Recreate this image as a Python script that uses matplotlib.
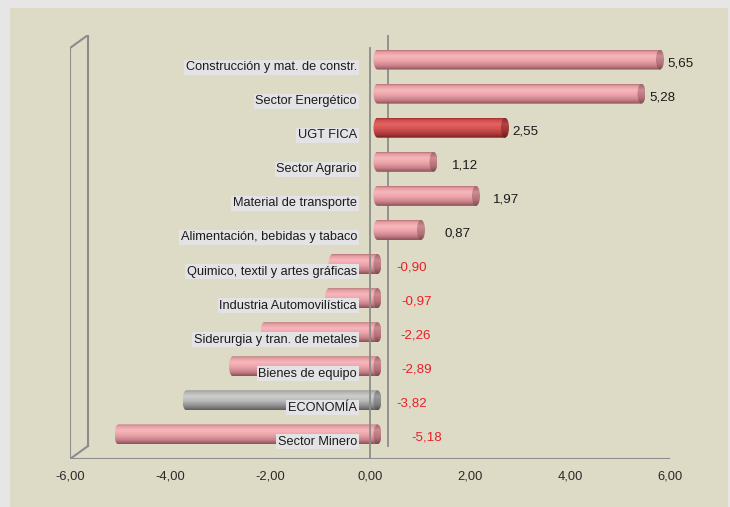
import numpy as np
import matplotlib
matplotlib.use('Agg')
import matplotlib.pyplot as plt
from matplotlib.path import Path
from matplotlib.patches import PathPatch, Ellipse, Rectangle
from matplotlib.colors import LinearSegmentedColormap
from matplotlib.lines import Line2D

plt.rcParams['font.family'] = ['Liberation Sans', 'DejaVu Sans']

# ---------------- data ----------------
categories = [
    'Construcción y mat. de constr.',
    'Sector Energético',
    'UGT FICA',
    'Sector Agrario',
    'Material de transporte',
    'Alimentación, bebidas y tabaco',
    'Quimico, textil y artes gráficas',
    'Industria Automovilística',
    'Siderurgia y tran. de metales',
    'Bienes de equipo',
    'ECONOMÍA',
    'Sector Minero',
]
values = [5.65, 5.28, 2.55, 1.12, 1.97, 0.87, -0.90, -0.97, -2.26, -2.89, -3.82, -5.18]
x_ticks = [-6, -4, -2, 0, 2, 4, 6]
x_tick_labels = ['-6,00', '-4,00', '-2,00', '0,00', '2,00', '4,00', '6,00']

# ---------------- styles ----------------
bar_kind = {'UGT FICA': 'red', 'ECONOMÍA': 'gray'}
value_label_dx_px = [3, 3.5, 3, 14, 13, 20, 15, 20, 19, 20, 15, 30]

body_stops = {
    'pink': [(0, '#b67277'), (0.08, '#e39aa0'), (0.3, '#f7b7bc'), (0.55, '#eca3a9'),
             (0.8, '#c7808a'), (1, '#8b5058')],
    'red': [(0, '#a02e2e'), (0.08, '#cf4848'), (0.3, '#e26565'), (0.55, '#d25050'),
            (0.8, '#ad3939'), (1, '#762020')],
    'gray': [(0, '#888888'), (0.08, '#b2b2b2'), (0.3, '#cecece'), (0.55, '#b8b8b8'),
             (0.8, '#8c8c8c'), (1, '#5e5e5e')],
}
cap_stops = {
    'pink': [(0, '#a0646a'), (0.3, '#cc8c92'), (0.7, '#b27078'), (1, '#7c484f')],
    'red': [(0, '#882828'), (0.3, '#b44444'), (0.7, '#962f2f'), (1, '#641a1a')],
    'gray': [(0, '#747474'), (0.3, '#9c9c9c'), (0.7, '#828282'), (1, '#525252')],
}

W, H = 730, 507
fig = plt.figure(figsize=(W / 100, H / 100), dpi=100)
fig.patch.set_facecolor('#e6e6e6')
fig.add_artist(Rectangle((10 / W, 0), (728 - 10) / W, (H - 8) / H,
                         transform=fig.transFigure, fc='#dddac6', ec='none', zorder=0))

# axes: x from -6 (px 70) to 6 (px 670), y front floor px 459, back top px 35
ax = fig.add_axes([70 / W, (H - 459) / H, 600 / W, (459 - 35) / H])
ax.set_facecolor('none')
for s in ax.spines.values():
    s.set_visible(False)

XMIN, XMAX = -6, 6
YMIN, YMAX = -0.5, 11.94
px_x = 600 / 12.0          # pixels per x unit
px_y = (459 - 35) / (YMAX - YMIN)
depth_x = 18 / px_x
depth_y = 13 / px_y

line_c = '#8c8c8c'
# left wall
ax.add_line(Line2D([XMIN, XMIN], [YMIN, YMAX - depth_y], color=line_c, lw=1.5, zorder=1))
ax.add_line(Line2D([XMIN + depth_x, XMIN + depth_x], [YMIN + depth_y, YMAX], color=line_c, lw=1.5, zorder=1))
ax.add_line(Line2D([XMIN, XMIN + depth_x], [YMAX - depth_y, YMAX], color=line_c, lw=1.5, zorder=1))
ax.add_line(Line2D([XMIN, XMIN + depth_x], [YMIN, YMIN + depth_y], color=line_c, lw=1.5, zorder=1))
# bottom axis
ax.add_line(Line2D([XMIN, XMAX], [YMIN, YMIN], color=line_c, lw=1.5, zorder=1))
# zero plane
ax.add_line(Line2D([depth_x, depth_x], [YMIN + depth_y, YMAX], color=line_c, lw=1.3, zorder=1))
ax.add_line(Line2D([0, 0], [YMIN, YMAX - depth_y], color=line_c, lw=1.3, zorder=5))

n = len(categories)
bar_h = 20 / px_y
cap_w = 8 / px_x
off_x = 0.15
off_y = 7.5 / px_y
grad = np.linspace(0, 1, 80).reshape(-1, 1)

for i, (cat, v) in enumerate(zip(categories, values)):
    pos = n - 1 - i
    kind = bar_kind.get(cat, 'pink')
    x0 = off_x + min(0, v)
    x1 = off_x + max(0, v)
    yc = pos + off_y
    yb, yt = yc - bar_h / 2, yc + bar_h / 2

    th = np.linspace(1.5 * np.pi, 0.5 * np.pi, 40)
    arc = np.column_stack([x0 + cap_w / 2 * np.cos(th), yc + bar_h / 2 * np.sin(th)])
    verts = np.vstack([[[x1, yb]], arc, [[x1, yt], [x1, yb]]])
    codes = [Path.MOVETO] + [Path.LINETO] * (len(verts) - 2) + [Path.CLOSEPOLY]
    body = PathPatch(Path(verts, codes), transform=ax.transData, fc='none', ec='none')
    ax.add_patch(body)
    cmap = LinearSegmentedColormap.from_list('b', body_stops[kind])
    im = ax.imshow(grad, cmap=cmap, extent=[x0 - cap_w / 2, x1, yb, yt],
                   origin='upper', aspect='auto', interpolation='bilinear', zorder=3)
    im.set_clip_path(body)

    cap = Ellipse((x1, yc), cap_w, bar_h, transform=ax.transData, fc='none', ec='none')
    ax.add_patch(cap)
    cmap2 = LinearSegmentedColormap.from_list('c', cap_stops[kind])
    im2 = ax.imshow(grad, cmap=cmap2, extent=[x1 - cap_w / 2, x1 + cap_w / 2, yb, yt],
                    origin='upper', aspect='auto', interpolation='bilinear', zorder=3.1)
    im2.set_clip_path(cap)

    # category label
    ax.text(-13 / px_x, pos, cat, ha='right', va='center', fontsize=9.2, color='#1a1a1a',
            zorder=6, bbox=dict(boxstyle='square,pad=0.12', fc='#e3e3e5', ec='none'))

    # value label
    end_x = x1 + cap_w / 2 if v > 0 else off_x + cap_w / 2
    txt = f'{v:.2f}'.replace('.', ',')
    ax.text(end_x + value_label_dx_px[i] / px_x, pos + 4 / px_y, txt, ha='left', va='center',
            fontsize=9.6, color='#1a1a1a' if v > 0 else '#e8202a', zorder=6)

ax.set_xlim(XMIN, XMAX)
ax.set_ylim(YMIN, YMAX)
ax.set_xticks(x_ticks, x_tick_labels)
ax.set_yticks([])
ax.tick_params(axis='x', length=0, pad=8, labelsize=9.3, labelcolor='#2a2a2a')

fig.savefig('out.png', dpi=100, facecolor=fig.get_facecolor())
